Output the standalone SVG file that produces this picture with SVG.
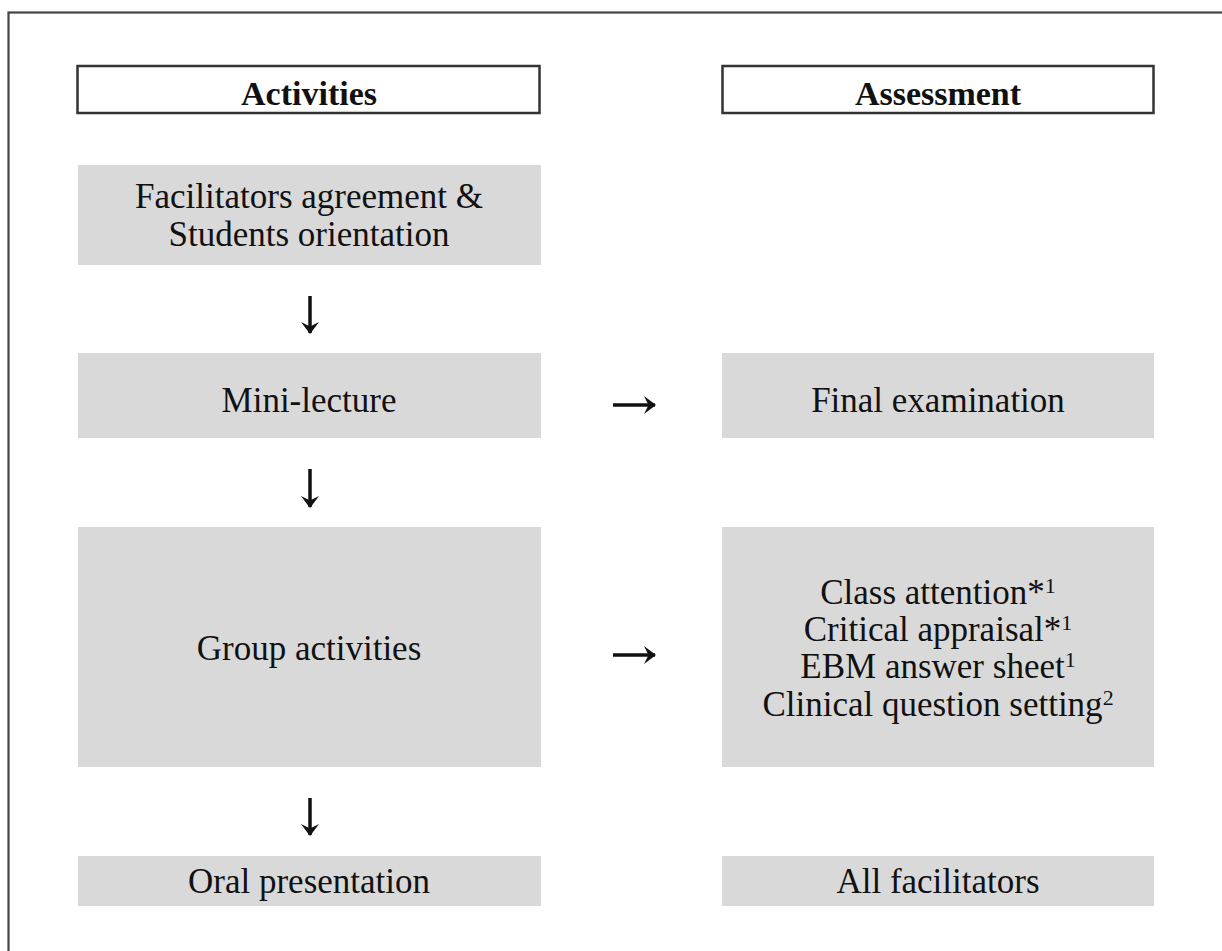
<svg xmlns="http://www.w3.org/2000/svg" width="1222" height="951" viewBox="0 0 1222 951">
<defs>
<style>
.hdr{fill:#fff;stroke:#333;stroke-width:2.5}
.box{fill:#d9d9d9}
.t{font-family:"Liberation Serif","Times New Roman",serif;font-size:35px;fill:#111;text-anchor:middle}
.b{font-weight:bold;font-size:34px}
.sup{font-size:22px}
.arr{stroke:#111;stroke-width:3.5;fill:none;marker-end:url(#ah)}
</style>
<marker id="ah" viewBox="-12 -10 14 20" refX="0" refY="0" markerWidth="14" markerHeight="20" markerUnits="userSpaceOnUse" orient="auto">
<path d="M1,0 L-11,-9 L-6.5,0 L-11,9 Z" fill="#111"/>
</marker>
</defs>
<rect x="0" y="0" width="1222" height="951" fill="#fff"/>
<rect x="8.5" y="12.5" width="1240" height="980" fill="none" stroke="#444" stroke-width="2.2"/>

<g id="hdr-activities">
<rect class="hdr" x="77.5" y="66" width="462" height="47"/>
<text class="t b" x="309" y="105">Activities</text>
</g>
<g id="hdr-assessment">
<rect class="hdr" x="722.5" y="66" width="431" height="47"/>
<text class="t b" x="938" y="105">Assessment</text>
</g>

<g id="n-facilitators">
<rect class="box" x="78" y="165" width="463" height="100"/>
<text class="t" x="309" y="208">Facilitators agreement &amp;</text>
<text class="t" x="309" y="246">Students orientation</text>
</g>
<g id="n-minilecture">
<rect class="box" x="78" y="353" width="463" height="85"/>
<text class="t" x="309" y="412">Mini-lecture</text>
</g>
<g id="n-finalexam">
<rect class="box" x="722" y="353" width="432" height="85"/>
<text class="t" x="938" y="412">Final examination</text>
</g>
<g id="n-group">
<rect class="box" x="78" y="527" width="463" height="240"/>
<text class="t" x="309" y="660">Group activities</text>
</g>
<g id="n-assess-group">
<rect class="box" x="722" y="527" width="432" height="240"/>
<text class="t" x="938" y="604">Class attention*<tspan class="sup" dy="-11">1</tspan></text>
<text class="t" x="938" y="641">Critical appraisal*<tspan class="sup" dy="-11">1</tspan></text>
<text class="t" x="938" y="678">EBM answer sheet<tspan class="sup" dy="-11">1</tspan></text>
<text class="t" x="938" y="716">Clinical question setting<tspan class="sup" dy="-11">2</tspan></text>
</g>
<g id="n-oral">
<rect class="box" x="78" y="856" width="463" height="50"/>
<text class="t" x="309" y="893">Oral presentation</text>
</g>
<g id="n-allfac">
<rect class="box" x="722" y="856" width="432" height="50"/>
<text class="t" x="938" y="893">All facilitators</text>
</g>

<g id="connectors">
<path class="arr" d="M310,296 V333"/>
<path class="arr" d="M310,469 V507"/>
<path class="arr" d="M310,798 V835"/>
<path class="arr" d="M613,405 H655"/>
<path class="arr" d="M613,655 H655"/>
</g>
</svg>
